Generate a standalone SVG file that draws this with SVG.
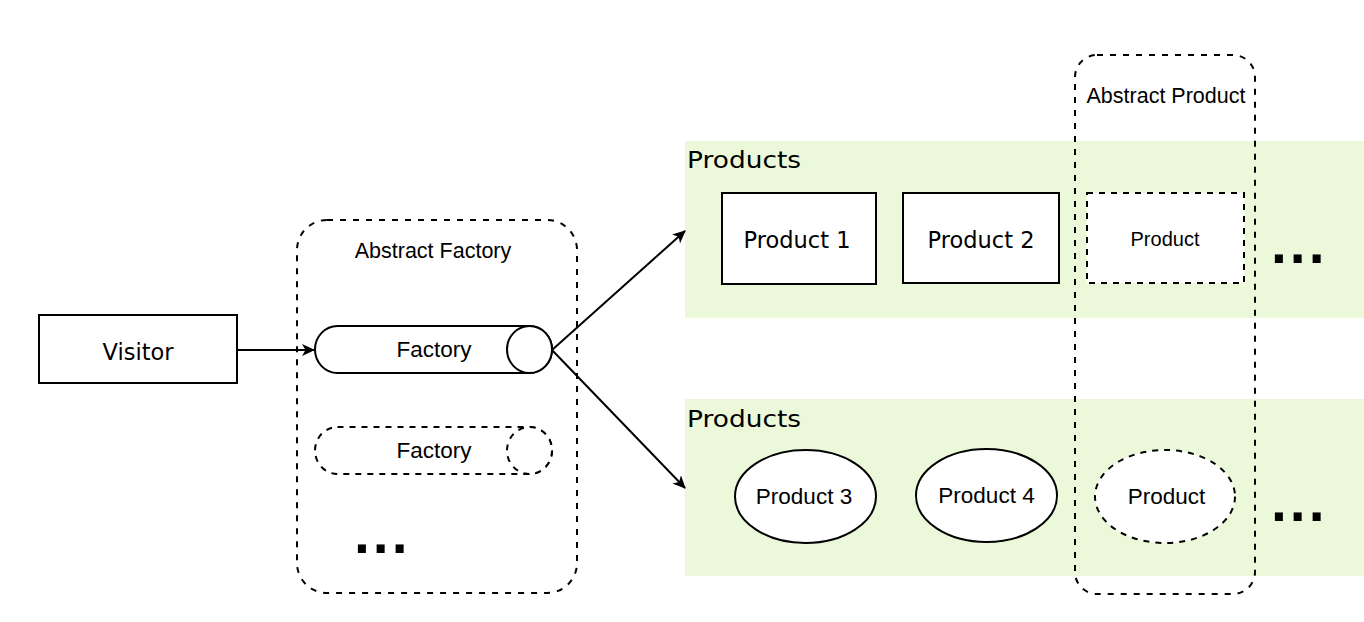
<svg xmlns="http://www.w3.org/2000/svg" width="1364" height="622" viewBox="0 0 1364 622">
  <style>
    .box { fill: #ffffff; stroke: #000000; stroke-width: 2; }
    .dbox { fill: #ffffff; stroke: #000000; stroke-width: 2; stroke-dasharray: 6 6; }
    .cont { fill: none; stroke: #000000; stroke-width: 2; stroke-dasharray: 6 7; }
    .band { fill: #EBF9DA; stroke: none; }
    .conn { fill: none; stroke: #000000; stroke-width: 2; }
    .dv { font-family: "DejaVu Sans", Verdana, sans-serif; fill: #000000; }
    .hv { font-family: "Liberation Sans", Arial, Helvetica, sans-serif; fill: #000000; }
    .dots { font-family: "Liberation Sans", Arial, sans-serif; font-weight: bold; font-size: 57px; letter-spacing: 3px; fill: #000000; }
  </style>
  <defs>
    <marker id="arrow" viewBox="0 0 13 12" refX="12" refY="6" markerWidth="13" markerHeight="12" markerUnits="userSpaceOnUse" orient="auto">
      <path d="M0,0 L13,6 L0,12 L3.5,6 Z" fill="#000000" stroke="none"/>
    </marker>
  </defs>

  <g id="band-products-1">
    <rect class="band" x="685" y="141" width="679" height="177"/>
    <text class="dv" x="687" y="168" font-size="23" textLength="114" lengthAdjust="spacingAndGlyphs">Products</text>
  </g>
  <g id="band-products-2">
    <rect class="band" x="685" y="399" width="679" height="177"/>
    <text class="dv" x="687" y="427" font-size="23" textLength="114" lengthAdjust="spacingAndGlyphs">Products</text>
  </g>

  <g id="abstract-product">
    <rect class="cont" x="1075" y="55" width="180" height="539" rx="22" ry="22"/>
    <text class="hv" x="1166" y="103" font-size="21.5" text-anchor="middle">Abstract Product</text>
  </g>

  <g id="abstract-factory">
    <rect class="cont" x="297" y="220" width="280" height="373" rx="30" ry="30"/>
    <text class="hv" x="433" y="258" font-size="21.5" text-anchor="middle">Abstract Factory</text>
  </g>

  <g id="visitor">
    <rect class="box" x="39" y="315" width="198" height="68"/>
    <text class="dv" x="138" y="360" font-size="22.5" text-anchor="middle">Visitor</text>
  </g>

  <g id="factory-1">
    <path class="box" d="M337.5,326 H529.5 A22.5,23.5 0 0 1 529.5,373 H337.5 A22.5,23.5 0 0 1 337.5,326 Z"/>
    <ellipse class="box" cx="529.5" cy="349.5" rx="22.5" ry="23.5"/>
    <text class="hv" x="434" y="357" font-size="22.5" text-anchor="middle">Factory</text>
  </g>

  <g id="factory-2">
    <path class="dbox" d="M337.5,427 H529.5 A22.5,23.5 0 0 1 529.5,474 H337.5 A22.5,23.5 0 0 1 337.5,427 Z"/>
    <ellipse class="dbox" cx="529.5" cy="450.5" rx="22.5" ry="23.5"/>
    <text class="hv" x="434" y="458" font-size="22.5" text-anchor="middle">Factory</text>
  </g>

  <g id="factory-more">
    <text class="dots" x="354" y="553">...</text>
  </g>

  <g id="product-1">
    <rect class="box" x="722" y="193" width="154" height="91"/>
    <text class="dv" x="797" y="248" font-size="22.5" text-anchor="middle">Product 1</text>
  </g>
  <g id="product-2">
    <rect class="box" x="903" y="193" width="156" height="90"/>
    <text class="dv" x="981" y="248" font-size="22.5" text-anchor="middle">Product 2</text>
  </g>
  <g id="product-abstract-rect">
    <rect class="dbox" x="1087" y="193" width="157" height="90"/>
    <text class="hv" x="1165" y="246" font-size="20" text-anchor="middle">Product</text>
  </g>
  <g id="products-1-more">
    <text class="dots" x="1271" y="263">...</text>
  </g>

  <g id="product-3">
    <ellipse class="box" cx="805.5" cy="496.5" rx="70.5" ry="46.5"/>
    <text class="hv" x="804" y="504" font-size="22.5" text-anchor="middle">Product 3</text>
  </g>
  <g id="product-4">
    <ellipse class="box" cx="986.5" cy="495.5" rx="70.5" ry="46.5"/>
    <text class="hv" x="986.5" y="503" font-size="22.5" text-anchor="middle">Product 4</text>
  </g>
  <g id="product-abstract-ellipse">
    <ellipse class="dbox" cx="1165" cy="496.5" rx="70" ry="46.5"/>
    <text class="hv" x="1166.5" y="504" font-size="22.5" text-anchor="middle">Product</text>
  </g>
  <g id="products-2-more">
    <text class="dots" x="1271" y="521">...</text>
  </g>

  <g id="connectors">
    <line class="conn" x1="237" y1="350" x2="314" y2="350" marker-end="url(#arrow)"/>
    <line class="conn" x1="552" y1="350" x2="685" y2="231" marker-end="url(#arrow)"/>
    <line class="conn" x1="552" y1="350" x2="685" y2="488" marker-end="url(#arrow)"/>
  </g>
</svg>
